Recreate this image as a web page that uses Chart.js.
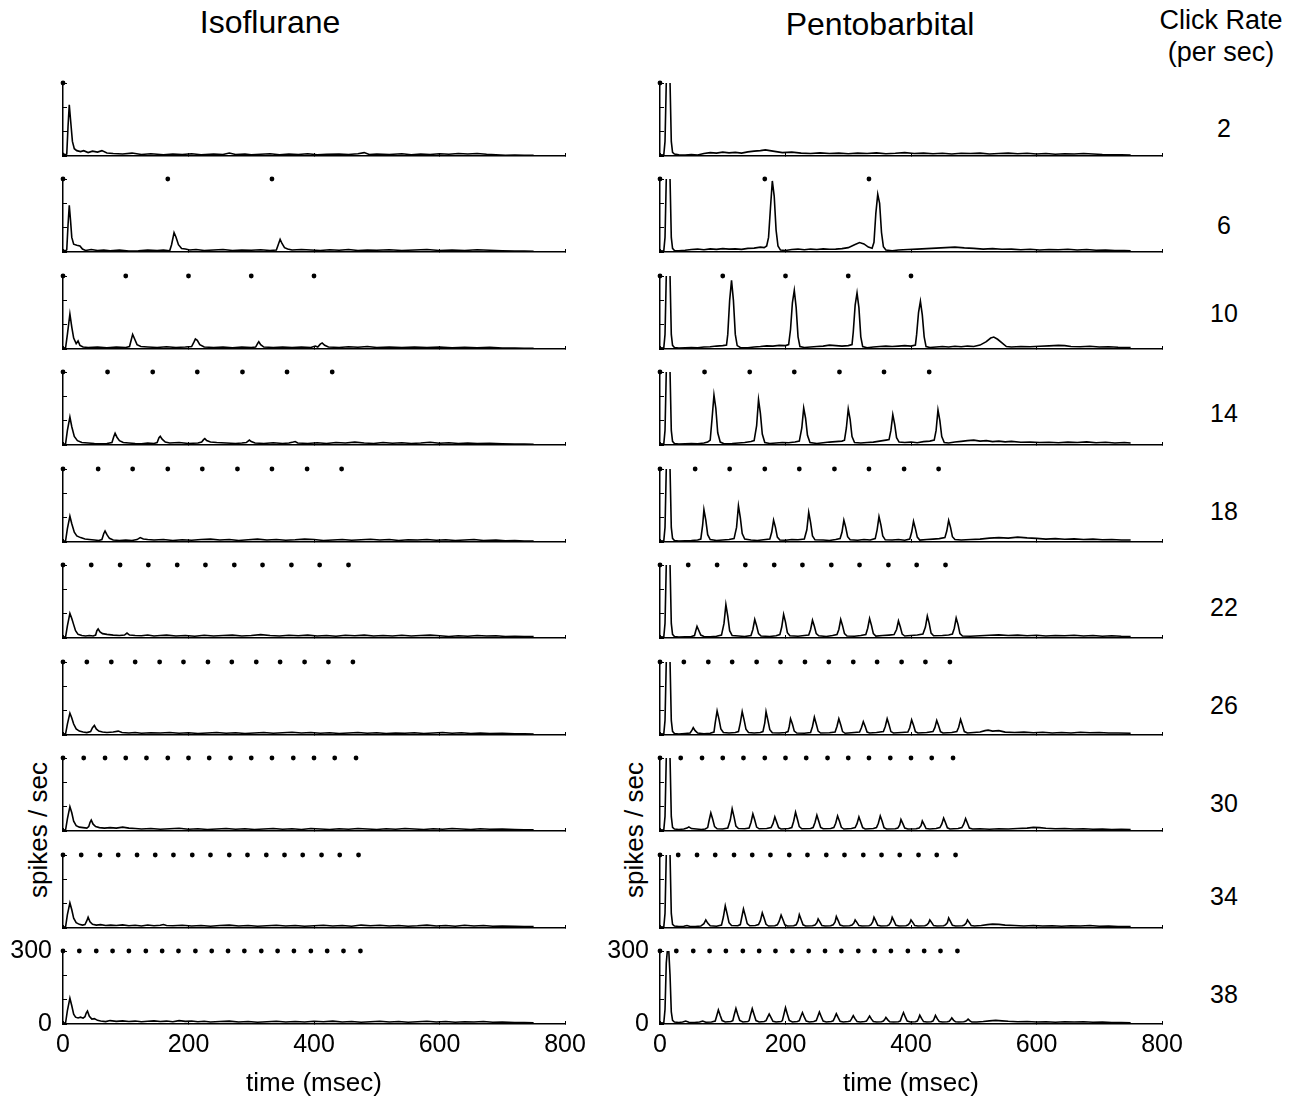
<!DOCTYPE html>
<html><head><meta charset="utf-8">
<script src="https://cdn.jsdelivr.net/npm/chart.js@4.4.1/dist/chart.umd.min.js"></script>
<style>
html,body{margin:0;padding:0;background:#fff;}
body{width:1292px;height:1102px;position:relative;overflow:hidden;font-family:"Liberation Sans",Arial,Helvetica,sans-serif;color:#000;}
canvas{position:absolute;}
.t{position:absolute;transform:translate(-50%,-50%);white-space:nowrap;line-height:1;}
.v{position:absolute;transform:translate(-50%,-50%) rotate(-90deg);white-space:nowrap;line-height:1;font-size:26px;}
</style></head><body>
<script>
// ---------------- DATA ----------------
const columnTitles = ['Isoflurane', 'Pentobarbital'];
const rates = [2, 6, 10, 14, 18, 22, 26, 30, 34, 38];
const xTickValues = [0, 200, 400, 600, 800];
const yTickValues = [0, 100, 200, 300];
const yTickLabels = [0, 300];

// click times (msec), one train per click rate
const clicks2  = [0];
const clicks6  = [0,167,333];
const clicks10 = [0,100,200,300,400];
const clicks14 = [0,71,143,214,286,357,429];
const clicks18 = [0,56,111,167,222,278,333,389,444];
const clicks22 = [0,45,91,136,182,227,273,318,364,409,455];
const clicks26 = [0,38,77,115,154,192,231,269,308,346,385,423,462];
const clicks30 = [0,33,67,100,133,167,200,233,267,300,333,367,400,433,467];
const clicks34 = [0,29,59,88,118,147,176,206,235,265,294,324,353,382,412,441,471];
const clicks38 = [0,26,53,79,105,132,158,184,211,237,263,289,316,342,368,395,421,447,474];

// PSTH traces: flat [time(msec), spikes/sec, ...]
const iso2 = [0,12, 3,4, 6,8, 8,120, 10,210, 12,150, 15,60, 18,30, 22,22, 28,18, 33,22, 40,14, 47,20, 55,16, 62,22, 70,12, 80,10, 95,8, 110,12, 125,6, 140,9, 160,5, 175,8, 190,6, 205,9, 220,5, 240,8, 255,6, 265,12, 275,6, 290,8, 300,5, 315,7, 330,9, 345,5, 360,8, 375,6, 390,9, 405,5, 420,7, 440,8, 455,6, 470,9, 480,14, 488,6, 500,8, 520,6, 540,9, 555,5, 570,8, 585,6, 600,9, 615,7, 630,10, 645,8, 660,10, 675,7, 690,5, 705,3, 720,4, 735,3, 750,3];
const iso6 = [0,8, 4,4, 6,10, 8,110, 10,192, 12,130, 14,60, 17,32, 22,28, 27,25, 31,12, 36,6, 45,10, 55,6, 65,8, 75,5, 90,8, 105,4, 120,5, 135,8, 150,6, 160,8, 170,5, 173,30, 177,80, 180,62, 184,30, 189,14, 195,12, 202,8, 212,10, 225,6, 240,8, 255,10, 270,6, 285,8, 300,7, 315,9, 330,6, 340,8, 343,30, 346,52, 349,35, 353,18, 358,12, 365,8, 380,10, 395,8, 410,6, 425,9, 440,7, 455,10, 470,6, 485,8, 500,7, 520,9, 540,6, 560,8, 580,10, 600,6, 620,8, 640,6, 660,9, 680,7, 700,5, 720,4, 735,4, 750,3];
const iso10 = [0,6, 4,3, 7,60, 11,144, 14,90, 17,45, 21,22, 24,33, 27,15, 32,8, 40,6, 55,8, 70,5, 85,8, 100,6, 106,10, 109,40, 111,60, 114,42, 118,18, 124,10, 135,8, 150,6, 165,9, 180,6, 195,8, 205,10, 209,30, 211,41, 214,36, 218,18, 225,8, 240,6, 255,8, 270,5, 285,8, 300,6, 307,8, 310,22, 312,30, 315,18, 320,8, 335,6, 350,8, 365,6, 380,8, 395,6, 402,12, 406,8, 410,20, 413,25, 417,15, 423,8, 440,6, 455,9, 470,7, 485,10, 500,6, 520,8, 540,6, 560,8, 580,6, 600,8, 620,5, 640,7, 660,5, 680,7, 700,4, 720,4, 735,3, 750,3];
const iso14 = [0,5, 4,3, 7,60, 11,115, 14,75, 18,35, 23,18, 30,10, 40,8, 50,6, 60,5, 70,6, 78,10, 81,35, 83,48, 86,32, 90,18, 96,10, 105,8, 115,6, 125,5, 135,8, 145,6, 150,10, 153,30, 155,36, 158,24, 163,12, 170,8, 185,10, 200,6, 215,8, 221,12, 224,22, 226,26, 229,18, 235,12, 245,10, 260,8, 275,6, 285,8, 292,10, 295,16, 297,20, 300,14, 306,8, 320,6, 335,9, 350,6, 360,8, 367,12, 370,14, 374,8, 390,6, 405,9, 420,6, 435,10, 450,8, 465,12, 480,8, 495,6, 510,10, 525,7, 540,9, 555,6, 570,8, 585,11, 600,7, 615,9, 630,6, 645,8, 660,6, 680,7, 700,5, 720,4, 735,4, 750,3];
const iso18 = [0,5, 4,3, 7,55, 11,106, 14,75, 18,40, 22,25, 28,18, 35,12, 42,10, 50,8, 57,6, 62,10, 65,35, 67,45, 70,30, 74,15, 80,8, 90,6, 100,8, 110,6, 118,10, 123,18, 128,12, 135,10, 145,8, 160,10, 175,6, 190,9, 205,7, 220,10, 235,12, 250,8, 265,10, 280,6, 295,9, 310,12, 325,8, 340,10, 355,7, 370,9, 385,12, 400,10, 415,6, 430,8, 445,10, 460,7, 475,9, 490,11, 505,8, 520,10, 535,6, 550,9, 565,8, 580,10, 595,7, 610,9, 625,6, 640,8, 655,10, 670,6, 690,8, 705,5, 720,6, 735,4, 750,4];
const iso22 = [0,6, 4,3, 7,50, 11,101, 14,80, 17,55, 20,30, 24,15, 30,10, 36,8, 42,10, 48,8, 52,12, 54,30, 56,37, 59,25, 63,18, 70,15, 80,12, 90,10, 98,12, 102,20, 106,12, 115,10, 125,9, 135,12, 145,8, 155,10, 165,12, 180,8, 195,10, 210,7, 225,11, 240,8, 255,10, 270,12, 285,8, 300,10, 315,14, 330,10, 345,8, 360,11, 375,9, 390,12, 405,8, 420,10, 435,7, 450,11, 465,9, 480,12, 495,8, 510,10, 525,8, 540,11, 555,8, 570,10, 585,12, 600,9, 615,6, 630,9, 645,7, 660,10, 675,8, 690,9, 705,6, 720,7, 735,6, 750,6];
const iso26 = [0,6, 4,3, 7,45, 11,90, 14,70, 17,45, 21,25, 26,16, 32,12, 38,10, 44,14, 47,30, 50,39, 53,25, 57,16, 63,12, 70,10, 80,12, 88,16, 94,10, 105,8, 115,10, 125,7, 140,9, 155,8, 170,10, 185,7, 200,9, 215,6, 230,8, 245,10, 260,7, 275,9, 290,6, 305,8, 320,10, 335,7, 350,9, 365,11, 380,8, 395,10, 410,7, 425,9, 440,6, 455,8, 470,10, 485,7, 500,9, 515,6, 530,8, 545,7, 560,9, 575,6, 590,8, 605,10, 620,7, 635,9, 650,6, 665,8, 680,6, 700,7, 720,5, 735,5, 750,4];
const iso30 = [0,6, 4,3, 7,50, 11,100, 14,75, 17,40, 21,22, 26,16, 32,14, 38,12, 41,18, 43,35, 45,45, 48,28, 52,18, 58,14, 66,12, 75,14, 85,12, 95,16, 105,12, 115,10, 125,8, 140,10, 155,7, 170,9, 185,11, 200,7, 215,9, 230,6, 245,8, 260,10, 275,7, 290,9, 305,6, 320,8, 335,10, 350,7, 365,9, 380,6, 395,10, 410,8, 425,6, 440,9, 455,7, 470,10, 485,8, 500,6, 515,9, 530,7, 545,10, 560,8, 575,6, 590,9, 605,7, 620,10, 635,8, 650,6, 665,9, 680,7, 700,8, 720,6, 735,5, 750,5];
const iso34 = [0,6, 4,3, 7,55, 11,103, 14,75, 17,40, 21,22, 26,15, 31,12, 35,14, 38,30, 40,44, 43,25, 47,15, 53,12, 60,14, 68,10, 76,12, 85,10, 95,13, 105,9, 115,11, 125,8, 135,12, 145,9, 155,11, 160,14, 165,10, 175,9, 190,11, 205,8, 220,10, 235,7, 250,10, 265,12, 280,8, 295,10, 310,7, 325,9, 340,11, 355,8, 370,10, 385,7, 400,9, 415,11, 430,8, 445,10, 460,7, 475,12, 490,9, 505,11, 520,8, 535,10, 550,7, 565,9, 580,12, 595,8, 610,10, 625,7, 640,11, 655,8, 670,10, 685,7, 700,8, 720,7, 735,6, 750,6];
const iso38 = [0,6, 4,3, 7,55, 11,106, 14,75, 17,40, 20,28, 24,25, 28,28, 32,24, 35,30, 37,45, 39,53, 42,32, 46,20, 50,22, 55,15, 60,12, 68,10, 75,14, 85,11, 95,13, 105,10, 115,12, 125,9, 135,11, 145,13, 155,10, 165,12, 175,9, 185,14, 195,11, 205,12, 215,9, 225,11, 235,8, 250,10, 265,12, 280,8, 295,10, 310,7, 325,9, 340,11, 355,8, 370,10, 385,8, 400,11, 415,9, 430,12, 445,8, 460,10, 475,7, 490,9, 505,11, 520,8, 535,10, 550,7, 565,9, 580,11, 595,8, 610,10, 625,7, 640,9, 655,8, 670,10, 685,7, 700,8, 720,6, 735,6, 750,5];

const pento2 = [0,5, 6,4, 8,60, 10,300, 12,420, 14,420, 16,300, 18,60, 20,15, 23,8, 30,5, 40,4, 50,6, 60,4, 70,10, 80,14, 90,12, 100,16, 110,13, 120,15, 130,12, 140,17, 150,20, 160,22, 168,25, 175,22, 185,18, 195,14, 210,16, 225,12, 240,10, 255,13, 270,10, 285,12, 300,9, 315,12, 330,10, 345,13, 360,9, 375,11, 390,14, 405,10, 420,12, 435,9, 450,11, 465,8, 480,11, 495,10, 510,12, 525,8, 540,10, 555,12, 570,9, 585,11, 600,8, 615,10, 630,7, 645,9, 660,8, 675,10, 690,8, 705,6, 720,5, 735,5, 750,4];
const pento6 = [0,5, 6,4, 8,60, 10,300, 12,420, 14,420, 16,300, 18,60, 20,15, 23,6, 30,5, 40,7, 50,10, 60,12, 70,9, 80,13, 90,11, 100,14, 110,12, 120,13, 130,11, 140,15, 150,16, 160,20, 166,18, 170,25, 173,60, 176,180, 179,292, 182,230, 185,90, 188,25, 192,8, 200,6, 210,10, 220,12, 230,9, 240,12, 250,10, 260,13, 270,11, 280,12, 290,14, 300,18, 310,30, 318,39, 325,33, 332,20, 338,15, 341,40, 344,160, 347,237, 350,200, 353,80, 356,22, 360,8, 370,5, 380,8, 395,10, 410,12, 425,14, 440,16, 455,18, 470,20, 485,17, 500,15, 515,12, 530,14, 545,11, 560,12, 575,9, 590,11, 605,8, 620,10, 635,9, 650,11, 665,8, 680,10, 695,7, 710,8, 725,6, 740,6, 750,5];
const pento10 = [0,5, 6,4, 8,60, 10,300, 12,420, 14,420, 16,300, 18,60, 20,15, 23,6, 30,4, 40,5, 50,6, 60,5, 70,8, 80,9, 90,12, 100,14, 106,16, 108,60, 111,200, 114,282, 117,200, 120,60, 123,14, 128,6, 140,5, 150,8, 160,10, 170,13, 180,12, 190,15, 200,14, 205,18, 208,80, 211,190, 214,241, 217,170, 220,50, 223,10, 230,6, 240,8, 250,10, 260,12, 270,16, 280,14, 290,12, 300,14, 306,18, 308,70, 311,180, 314,230, 317,170, 320,50, 323,10, 330,5, 340,8, 350,10, 360,12, 370,10, 380,12, 390,14, 400,12, 407,16, 409,60, 412,150, 415,196, 418,140, 421,50, 424,10, 430,6, 440,8, 450,10, 460,8, 470,11, 480,9, 490,12, 500,10, 510,16, 520,30, 527,45, 532,49, 538,40, 545,25, 552,10, 560,8, 575,10, 590,9, 605,11, 620,13, 635,15, 645,14, 655,10, 670,9, 685,11, 700,8, 715,9, 730,7, 750,6];
const pento14 = [0,5, 6,4, 8,60, 10,300, 12,420, 14,420, 16,300, 18,60, 20,15, 23,6, 30,4, 40,5, 50,6, 60,5, 70,8, 76,12, 80,20, 83,110, 86,205, 89,150, 92,50, 96,12, 102,5, 115,6, 125,8, 135,10, 145,14, 150,18, 154,80, 157,186, 160,130, 163,45, 167,10, 175,6, 185,8, 195,10, 205,9, 215,12, 222,16, 226,70, 229,152, 232,110, 235,40, 239,10, 250,6, 260,9, 270,12, 280,14, 290,16, 294,20, 297,70, 300,148, 303,105, 306,35, 310,10, 320,8, 330,10, 340,12, 350,16, 360,20, 365,22, 368,60, 371,125, 374,85, 377,30, 381,12, 390,10, 400,12, 410,9, 420,14, 430,16, 437,20, 440,60, 443,144, 446,100, 449,35, 453,10, 460,8, 470,12, 480,15, 490,18, 500,20, 510,16, 520,18, 530,14, 540,16, 550,13, 560,15, 575,11, 590,12, 605,10, 620,11, 635,9, 650,12, 665,10, 680,13, 695,9, 710,11, 725,8, 740,10, 750,8];
const pento18 = [0,5, 6,4, 8,60, 10,300, 12,420, 14,420, 16,300, 18,60, 20,15, 23,6, 30,4, 40,5, 50,6, 60,8, 65,12, 68,70, 70,133, 73,90, 76,30, 80,10, 90,6, 100,8, 110,10, 118,14, 122,60, 125,149, 128,100, 131,35, 135,12, 145,8, 155,6, 165,9, 175,12, 178,40, 181,90, 184,60, 187,20, 191,8, 200,7, 210,10, 220,9, 230,12, 234,50, 237,122, 240,80, 243,25, 247,9, 260,8, 270,6, 280,10, 287,14, 290,40, 293,90, 296,60, 299,22, 303,9, 315,7, 325,10, 335,8, 343,14, 346,50, 349,104, 352,70, 355,25, 359,9, 370,8, 380,10, 390,7, 398,12, 401,40, 404,85, 407,55, 410,20, 414,8, 425,10, 435,12, 445,14, 454,18, 457,45, 460,89, 463,60, 466,22, 470,10, 480,8, 495,10, 510,12, 525,16, 540,18, 555,16, 570,20, 585,17, 600,15, 615,12, 630,14, 645,11, 660,13, 675,10, 690,12, 705,9, 720,10, 735,8, 750,8];
const pento22 = [0,5, 6,4, 8,60, 10,300, 12,420, 14,420, 16,300, 18,60, 20,15, 23,6, 30,4, 40,5, 50,6, 55,10, 57,30, 59,48, 62,30, 65,12, 70,6, 80,5, 90,7, 98,12, 102,60, 105,137, 108,90, 111,30, 115,10, 125,8, 135,6, 145,10, 148,35, 151,76, 154,50, 157,18, 161,8, 175,6, 185,9, 191,14, 194,45, 197,97, 200,65, 203,22, 207,9, 220,7, 230,10, 237,12, 240,35, 243,73, 246,48, 249,18, 253,9, 265,6, 275,10, 282,14, 285,35, 288,76, 291,50, 294,18, 298,8, 310,7, 320,10, 328,14, 331,40, 334,80, 337,52, 340,18, 344,8, 355,10, 365,12, 373,14, 377,35, 380,70, 383,45, 386,16, 390,8, 400,10, 410,12, 419,16, 423,45, 426,90, 429,60, 432,20, 436,9, 450,10, 460,12, 466,16, 469,40, 472,82, 475,55, 478,18, 482,8, 495,7, 510,9, 525,11, 540,13, 555,10, 570,12, 585,9, 600,11, 615,8, 630,10, 645,9, 660,11, 675,8, 690,10, 705,7, 720,9, 735,7, 750,6];
const pento26 = [0,5, 6,4, 8,60, 10,300, 12,420, 14,420, 16,300, 18,60, 20,15, 23,6, 30,4, 40,6, 48,8, 51,20, 53,30, 56,18, 60,8, 70,5, 80,7, 86,12, 88,50, 91,99, 94,65, 97,25, 101,10, 110,8, 120,10, 125,14, 128,50, 131,96, 134,62, 137,24, 141,10, 150,8, 160,10, 164,14, 167,50, 169,96, 172,60, 175,22, 179,9, 190,8, 200,10, 204,14, 206,35, 208,67, 211,45, 214,16, 218,8, 230,7, 240,10, 243,35, 246,73, 249,45, 252,16, 256,8, 270,9, 279,12, 282,35, 285,67, 288,42, 291,14, 295,7, 305,9, 318,12, 321,30, 324,55, 327,35, 330,12, 334,8, 345,10, 356,14, 359,35, 362,67, 365,42, 368,14, 372,8, 385,10, 395,12, 398,30, 401,62, 404,40, 407,14, 411,8, 425,10, 435,14, 438,30, 441,60, 444,38, 447,14, 451,8, 465,10, 473,14, 476,32, 479,64, 482,40, 485,14, 490,8, 500,10, 510,12, 518,18, 523,20, 530,16, 540,18, 550,12, 565,10, 580,12, 595,9, 610,11, 625,8, 640,10, 655,8, 670,11, 685,9, 700,10, 715,8, 730,8, 750,7];
const pento30 = [0,5, 6,4, 8,60, 10,300, 12,420, 14,420, 16,300, 18,60, 20,15, 23,8, 30,6, 38,8, 43,12, 46,17, 50,10, 58,8, 66,6, 72,8, 76,14, 78,40, 81,74, 84,48, 87,18, 91,9, 100,8, 108,12, 112,45, 115,91, 118,58, 121,20, 125,10, 135,9, 142,12, 145,35, 148,70, 151,45, 154,16, 158,9, 170,10, 177,14, 180,30, 183,58, 186,36, 189,14, 193,8, 205,10, 210,14, 213,40, 216,77, 219,48, 222,18, 226,9, 240,10, 244,14, 247,35, 250,65, 253,40, 256,15, 260,9, 272,10, 277,14, 280,32, 283,62, 286,40, 289,15, 293,8, 305,10, 311,14, 314,30, 317,58, 320,36, 323,14, 327,8, 340,10, 345,14, 348,32, 351,62, 354,40, 357,14, 361,8, 375,9, 379,12, 382,25, 384,47, 387,30, 390,12, 395,8, 408,9, 413,12, 416,22, 418,41, 421,26, 424,10, 430,8, 440,10, 446,14, 449,28, 452,53, 455,34, 458,13, 462,8, 475,10, 481,14, 484,28, 487,51, 490,32, 493,12, 498,8, 510,9, 525,7, 540,9, 555,8, 570,10, 585,12, 595,15, 605,14, 615,11, 630,9, 645,10, 660,8, 675,9, 690,7, 705,8, 720,6, 735,7, 750,6];
const pento34 = [0,5, 6,4, 8,60, 10,300, 12,420, 14,420, 16,300, 18,60, 20,15, 23,8, 30,6, 38,7, 43,10, 48,6, 56,6, 65,8, 70,18, 73,33, 76,20, 80,9, 90,7, 98,12, 101,45, 104,91, 107,58, 110,22, 114,10, 124,9, 128,14, 130,40, 133,78, 136,50, 139,18, 143,9, 152,10, 157,14, 160,30, 163,62, 166,40, 169,15, 173,8, 183,9, 187,13, 190,28, 193,53, 196,34, 199,13, 203,8, 213,9, 217,13, 220,30, 222,55, 225,34, 228,13, 232,8, 243,9, 247,12, 250,22, 252,37, 255,24, 258,10, 263,8, 272,9, 276,13, 279,25, 281,47, 284,30, 287,12, 292,8, 302,9, 306,12, 309,20, 311,33, 314,22, 317,10, 322,8, 333,9, 336,13, 339,25, 341,44, 344,28, 347,11, 352,8, 362,9, 365,13, 368,25, 370,44, 373,28, 376,11, 381,8, 392,9, 395,12, 398,20, 400,33, 403,22, 406,10, 411,8, 422,9, 425,12, 428,20, 430,33, 433,22, 436,10, 441,8, 452,9, 455,13, 458,22, 460,41, 463,26, 466,11, 471,8, 482,9, 485,12, 488,20, 490,33, 493,22, 496,10, 501,8, 512,10, 522,14, 530,16, 540,15, 550,12, 565,10, 580,8, 595,10, 610,8, 625,9, 640,7, 655,9, 670,8, 685,10, 700,7, 715,8, 730,6, 750,6];
const pento38 = [0,5, 6,4, 8,60, 10,250, 12,310, 14,300, 16,200, 18,50, 20,15, 23,8, 30,6, 36,8, 41,12, 46,7, 55,6, 63,8, 68,12, 73,7, 82,8, 88,12, 90,30, 93,58, 96,35, 99,14, 104,8, 113,10, 116,14, 118,35, 121,64, 124,38, 127,15, 132,8, 140,10, 142,14, 144,35, 147,63, 150,38, 153,14, 158,8, 166,10, 169,14, 171,25, 174,41, 177,26, 180,11, 185,8, 193,10, 195,14, 197,35, 200,67, 203,40, 206,15, 211,8, 219,10, 222,14, 224,28, 227,47, 230,28, 233,12, 238,8, 245,10, 249,14, 251,28, 254,49, 257,30, 260,12, 265,8, 273,10, 276,13, 278,24, 281,42, 284,26, 287,11, 292,8, 300,10, 303,12, 305,20, 308,34, 311,21, 314,10, 319,8, 326,10, 329,12, 331,20, 334,33, 337,20, 340,10, 345,8, 353,9, 356,12, 358,18, 360,27, 363,17, 366,9, 372,8, 380,9, 383,13, 385,28, 388,47, 391,28, 394,12, 399,8, 407,9, 410,12, 412,22, 414,36, 417,22, 420,10, 425,8, 432,9, 435,12, 437,22, 439,35, 442,21, 445,10, 450,8, 458,9, 461,11, 463,17, 465,25, 468,15, 471,9, 476,8, 484,9, 487,11, 489,15, 491,20, 494,13, 497,8, 505,8, 515,10, 525,13, 535,15, 545,13, 555,11, 570,9, 585,10, 600,8, 615,9, 630,7, 645,9, 660,8, 675,9, 690,7, 705,8, 720,6, 735,6, 750,5];

const clickTrains = [clicks2, clicks6, clicks10, clicks14, clicks18, clicks22, clicks26, clicks30, clicks34, clicks38];
const isoSeries = [iso2, iso6, iso10, iso14, iso18, iso22, iso26, iso30, iso34, iso38];
const pentoSeries = [pento2, pento6, pento10, pento14, pento18, pento22, pento26, pento30, pento34, pento38];

// ---------------- LAYOUT / DRAWING ----------------
const FONT = '"Liberation Sans", Arial, Helvetica, sans-serif';
const plotLeft = [63, 660];
const plotW = 502, plotH = 73;
const rowLabelY = [128, 225, 313, 413, 511, 607, 705, 803, 896, 994];
function rowTop(i) { return Math.round(82.5 + i * 96.5); }
function pairs(a) { const r = []; for (let k = 0; k < a.length; k += 2) r.push({x: a[k], y: a[k + 1]}); return r; }

function addText(txt, x, y, size, cls) {
  const d = document.createElement('div');
  d.className = cls || 't';
  d.textContent = txt;
  d.style.left = x + 'px'; d.style.top = y + 'px';
  if (size) d.style.fontSize = size + 'px';
  document.body.appendChild(d);
}

addText(columnTitles[0], 270, 22, 32);
addText(columnTitles[1], 880, 24, 32);
addText('Click Rate', 1221, 20, 27);
addText('(per sec)', 1221, 52, 27);
rates.forEach((r, i) => addText(String(r), 1224, rowLabelY[i], 25));
addText('spikes / sec', 38, 830, null, 'v');
addText('spikes / sec', 634, 830, null, 'v');

[isoSeries, pentoSeries].forEach((seriesList, c) => {
  seriesList.forEach((series, i) => {
    const last = i === rates.length - 1;
    const yW = 63;                       // width reserved for the y scale (labels live here)
    const padR = last ? 40 : 25, padT = last ? 34 : 8, padB = last ? 2 : 8;
    const xH = last ? 75 : 0;
    const cv = document.createElement('canvas');
    cv.width = yW + plotW + padR;
    cv.height = padT + plotH + xH + padB;
    cv.style.width = cv.width + 'px'; cv.style.height = cv.height + 'px';
    cv.style.left = (plotLeft[c] - yW) + 'px';
    cv.style.top = (rowTop(i) - padT) + 'px';
    document.body.appendChild(cv);
    new Chart(cv, {
      type: 'line',
      data: {
        datasets: [
          {data: pairs(series), borderColor: '#000', borderWidth: 1.6, pointRadius: 0, tension: 0, fill: false},
          {data: clickTrains[i].map(t => ({x: t, y: 300})), showLine: false, pointRadius: 2.4,
           pointBackgroundColor: '#000', pointBorderColor: '#000', pointBorderWidth: 0, clip: false}
        ]
      },
      options: {
        responsive: false, animation: false, devicePixelRatio: 1, events: [],
        layout: {padding: {left: 0, right: padR, top: padT, bottom: padB}},
        plugins: {legend: {display: false}, tooltip: {enabled: false}},
        scales: {
          x: {
            type: 'linear', min: 0, max: 800,
            afterBuildTicks: s => { s.ticks = xTickValues.map(v => ({value: v})); },
            afterFit: s => { s.height = xH; },
            grid: {drawOnChartArea: false, drawTicks: true, tickLength: -3, color: '#000', tickColor: '#000', tickWidth: 1},
            border: {display: true, color: '#000', width: 1.5},
            ticks: {display: last, color: '#000', font: {family: FONT, size: 25}, padding: 9, maxRotation: 0, autoSkip: false},
            title: {display: last, text: 'time (msec)', color: '#000', font: {family: FONT, size: 26}, padding: {top: 0, bottom: 0}}
          },
          y: {
            type: 'linear', min: 0, max: 300,
            afterBuildTicks: s => { s.ticks = yTickValues.map(v => ({value: v})); },
            afterFit: s => { s.width = yW; },
            grid: {drawOnChartArea: false, drawTicks: true, tickLength: -4, color: '#000', tickColor: '#000', tickWidth: 1},
            border: {display: true, color: '#000', width: 1.5},
            ticks: {display: last, color: '#000', font: {family: FONT, size: 25}, padding: 15, autoSkip: false,
                    callback: v => yTickLabels.includes(v) ? String(v) : ''}
          }
        }
      }
    });
  });
});
</script>
</body></html>
